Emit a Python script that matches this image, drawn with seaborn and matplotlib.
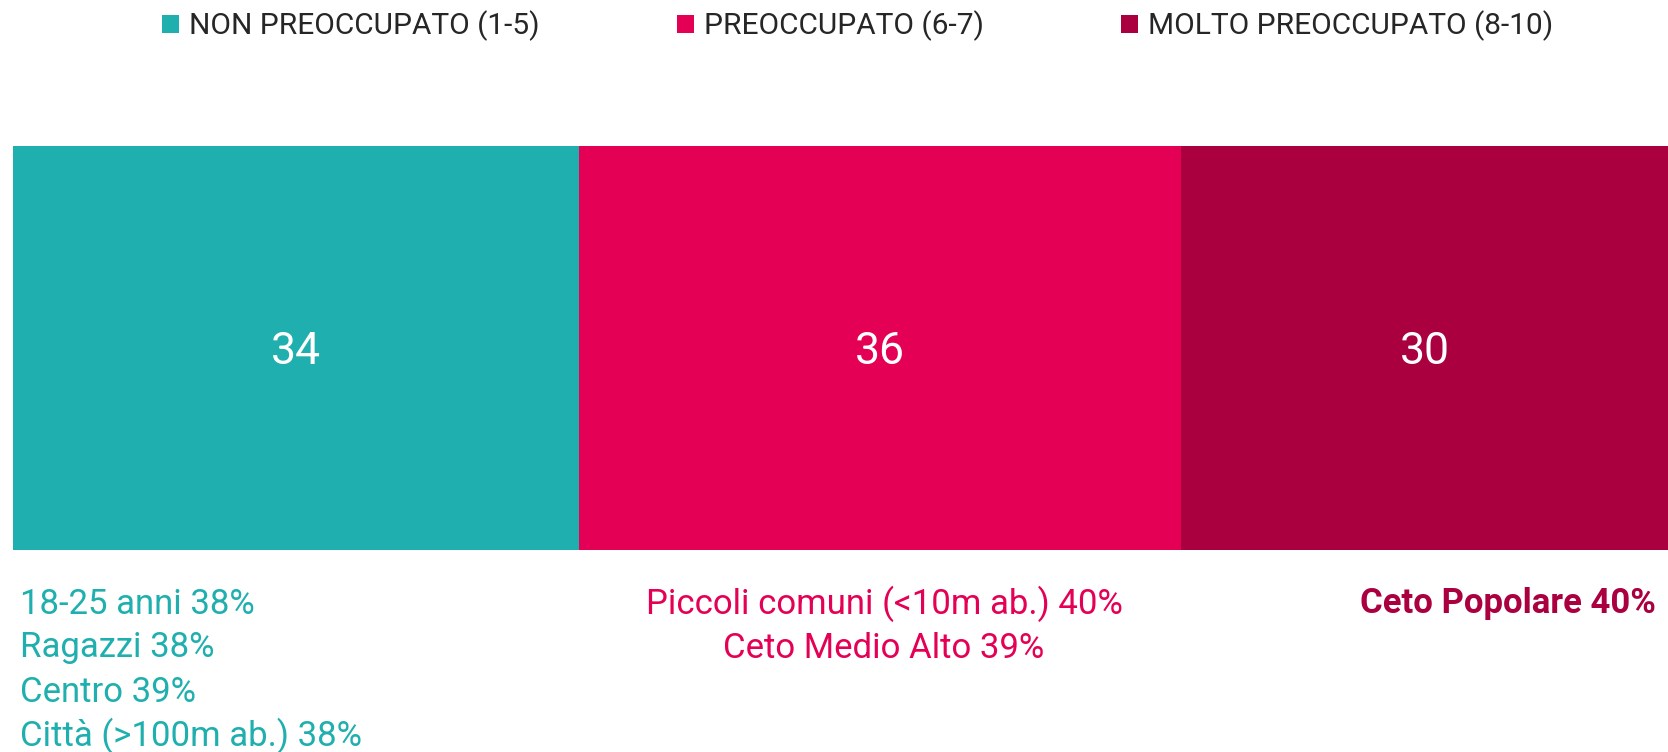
import numpy as np
import pandas as pd
import matplotlib
matplotlib.use("Agg")
import matplotlib.pyplot as plt
import seaborn as sns
from matplotlib.patches import Patch

# Data
categories = ["NON PREOCCUPATO (1-5)", "PREOCCUPATO (6-7)", "MOLTO PREOCCUPATO (8-10)"]
values = [34.2, 36.4, 29.4]       # bar widths as measured (unrounded)
value_labels = ["34", "36", "30"]  # labels shown in the bars
colors = ["#1FAFAE", "#E40054", "#AA0040"]
notes = [
    ["18-25 anni 38%", "Ragazzi 38%", "Centro 39%", "Città (>100m ab.) 38%"],
    ["Piccoli comuni (<10m ab.) 40%", "Ceto Medio Alto 39%"],
    ["Ceto Popolare 40%"],
]

sns.set_theme(style="white")
plt.rcParams["font.family"] = ["Roboto", "DejaVu Sans"]

W, H = 1668, 752
fig = plt.figure(figsize=(W / 100, H / 100), dpi=100)
ax = fig.add_axes([13 / W, 1 - 550 / H, 1 - 13 / W, 404 / H])

cum = np.cumsum(values)
starts = cum - np.array(values)
# draw cumulative bars from the largest so they stack visually
for i in reversed(range(len(values))):
    df = pd.DataFrame({"row": ["all"], "val": [cum[i]]})
    sns.barplot(data=df, x="val", y="row", color=colors[i], width=1.0,
                saturation=1, linewidth=0, ax=ax, orient="h")

ax.set_xlim(0, 100)
ax.set_ylim(0.5, -0.5)
ax.axis("off")

for s, v, lab in zip(starts, values, value_labels):
    ax.text(s + v / 2, 0.01, lab, ha="center", va="center", color="white",
            fontsize=32)

# notes under the bar
line_h = 44 / H
y0 = 1 - 604 / H
for j, line in enumerate(notes[0]):
    fig.text(20 / W, y0 - j * line_h, line, ha="left", va="center",
             color=colors[0], fontsize=25)
for j, line in enumerate(notes[1]):
    fig.text(884 / W, y0 - j * line_h, line, ha="center", va="center",
             color=colors[1], fontsize=25)
fig.text(1656 / W, y0, notes[2][0], ha="right", va="center",
         color=colors[2], fontsize=25, fontweight="bold")

handles = [Patch(facecolor=c, edgecolor="none") for c in colors]
fig.legend(handles, categories, loc="center", bbox_to_anchor=(858 / W, 1 - 26 / H),
           ncol=3, frameon=False, fontsize=21.5, handlelength=0.55, handleheight=0.55,
           handletextpad=0.35, columnspacing=4.6)

fig.savefig("out.png", dpi=100)
